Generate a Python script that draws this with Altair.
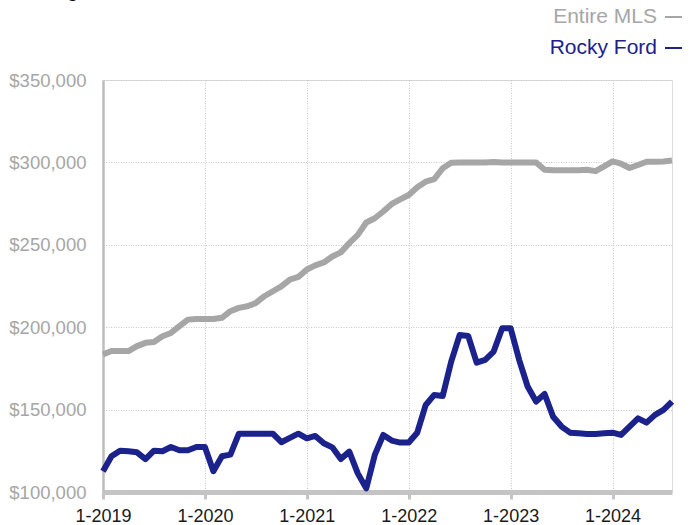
import altair as alt
import pandas as pd

months = [f"{m}-{y}" for y in range(2019, 2025) for m in range(1, 13)][:68]

entire_mls = [
    183.4, 185.5, 185.5, 185.5, 188.5, 190.5, 191.0, 194.5, 196.5, 200.6, 204.6, 205.0,
    205.0, 205.0, 205.7, 209.7, 211.7, 212.7, 214.7, 218.8, 221.8, 224.8, 228.9, 230.5,
    235.0, 237.5, 239.3, 242.9, 245.4, 251.0, 256.0, 263.5, 266.1, 270.2, 274.8, 277.6,
    280.2, 284.9, 288.3, 289.9, 296.4, 299.8, 300.0, 300.0, 300.0, 300.0, 300.3, 300.0,
    300.0, 300.0, 300.0, 300.0, 295.5, 295.2, 295.2, 295.2, 295.2, 295.5, 294.7, 297.6,
    300.6, 299.2, 296.6, 298.4, 300.4, 300.4, 300.6, 301.2,
]

rocky_ford = [
    112.6, 121.7, 125.1, 124.7, 124.1, 120.0, 125.1, 124.7, 127.3, 125.3, 125.3, 127.3,
    127.3, 112.6, 121.7, 122.7, 135.4, 135.4, 135.4, 135.4, 135.4, 130.2, 132.8, 135.4,
    132.6, 134.0, 129.6, 127.1, 120.0, 124.5, 111.3, 102.2, 122.5, 134.6, 131.2, 130.0,
    130.0, 136.0, 152.8, 158.9, 158.3, 179.1, 195.3, 194.7, 178.5, 180.2, 185.2, 199.4,
    199.4, 180.2, 164.0, 154.9, 159.5, 145.7, 139.7, 136.0, 135.6, 135.2, 135.2, 135.6,
    136.0, 134.6, 139.7, 144.7, 142.1, 146.8, 149.8, 154.9,
]

series_names = ["Entire MLS", "Rocky Ford"]
series_colors = ["#a6a6a6", "#1c228c"]
year_ticks = [0, 12, 24, 36, 48, 60]
y_ticks = [100000, 150000, 200000, 250000, 300000, 350000]
chart_title = "Rolling 12-Month Calculation"

rows = []
for name, vals in zip(series_names, [entire_mls, rocky_ford]):
    for i, (mo, v) in enumerate(zip(months, vals)):
        rows.append({"series": name, "month": mo, "t": i, "price": v * 1000})
df = pd.DataFrame(rows)

FONT = "Liberation Sans"

lines = alt.Chart(df).mark_line(strokeWidth=6, strokeJoin="round").encode(
    x=alt.X(
        "t:Q",
        scale=alt.Scale(domain=[0, len(months) - 1], nice=False, zero=False),
        axis=alt.Axis(
            values=year_ticks,
            labelExpr="'1-' + (2019 + floor(datum.value / 12))",
            title=None,
            grid=True,
            gridColor="#c8c8c8",
            gridDash=[1, 1.5],
            gridWidth=1,
            domainColor="#c4c4c4",
            domainWidth=5,
            tickColor="#c4c4c4",
            tickWidth=3,
            tickSize=7,
            labelPadding=8,
            labelFlush=False,
            labelFont=FONT,
            labelFontSize=18,
            labelColor="#1a1a1a",
        ),
    ),
    y=alt.Y(
        "price:Q",
        scale=alt.Scale(domain=[100000, 350000], nice=False, zero=False),
        axis=alt.Axis(
            values=y_ticks,
            format="$,.0f",
            title=None,
            grid=True,
            gridColor="#c8c8c8",
            gridDash=[1, 1.5],
            gridWidth=1,
            domainColor="#bdbdbd",
            domainWidth=2.5,
            ticks=False,
            labelPadding=17,
            labelFlush=False,
            labelFont=FONT,
            labelFontSize=18.5,
            labelColor="#a6a6a6",
        ),
    ),
    color=alt.Color(
        "series:N",
        scale=alt.Scale(domain=series_names, range=series_colors),
        legend=None,
    ),
)

layers = [lines]
legend_rows_y = [-63, -32]
for name, col, ly in zip(series_names, series_colors, legend_rows_y):
    src = pd.DataFrame({"series": [name]})
    layers.append(
        alt.Chart(src).mark_text(
            align="right", baseline="middle", font=FONT, fontSize=21
        ).encode(
            text="series:N",
            x=alt.value(554),
            y=alt.value(ly),
            color=alt.value(col),
        )
    )
    layers.append(
        alt.Chart(src).mark_rule(strokeWidth=2).encode(
            x=alt.value(562),
            x2=alt.value(579),
            y=alt.value(ly),
            color=alt.value(col),
        )
    )

title_src = pd.DataFrame({"title": [chart_title]})
layers.append(
    alt.Chart(title_src).mark_text(
        align="left", baseline="alphabetic", font=FONT, fontSize=20, color="#111111"
    ).encode(
        text="title:N",
        x=alt.value(-86),
        y=alt.value(-83),
    )
)

chart = alt.layer(*layers).properties(
    width=569,
    height=412,
    padding={"left": 103, "top": 80, "right": 17, "bottom": 33},
    autosize=alt.AutoSizeParams(type="none"),
).configure_view(
    stroke="#c8c8c8", strokeDash=[1, 1.5], strokeWidth=1
).configure(background="white")

chart.save("out.html", embed_options={"renderer": "svg", "actions": False})
